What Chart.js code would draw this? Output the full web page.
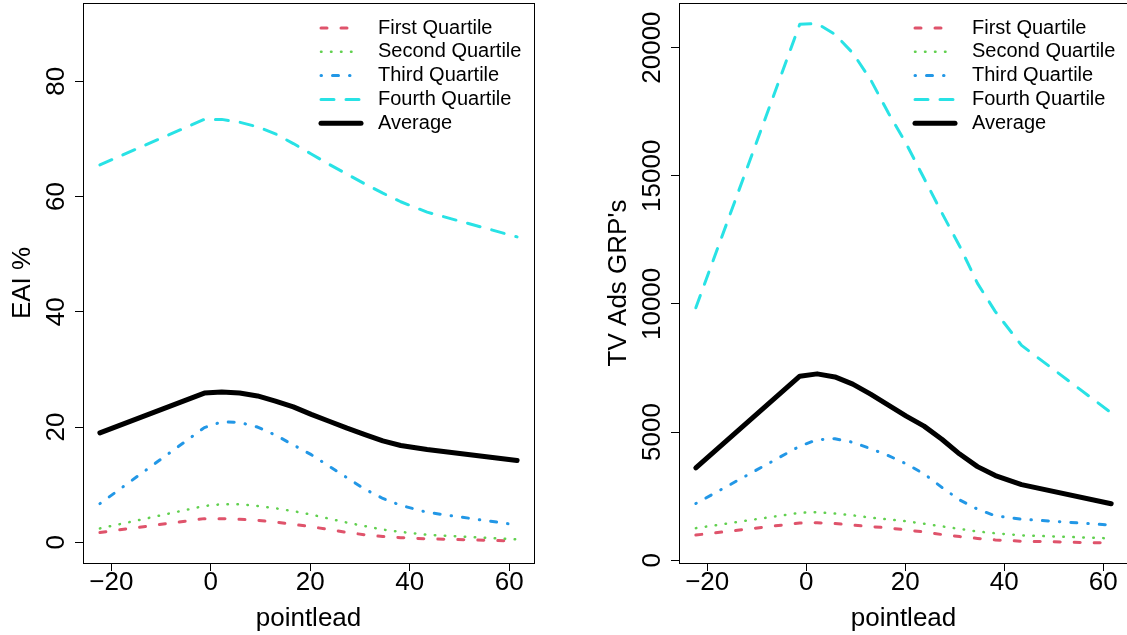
<!DOCTYPE html>
<html>
<head>
<meta charset="utf-8">
<script src="https://cdn.jsdelivr.net/npm/chart.js@4.4.1/dist/chart.umd.min.js"></script>
<style>
  html, body { margin: 0; padding: 0; background: #fff; overflow: hidden; }
  #eai { position: absolute; left: 0; top: 0; }
  #grp { position: absolute; left: 563px; top: 0; }
</style>
</head>
<body>
<canvas id="eai" width="563" height="635"></canvas>
<canvas id="grp" width="570" height="635"></canvas>
<script>
// values
const pointlead = [-22.3, -1.3, 2.2, 5.8, 9.4, 13, 16.6, 20.2, 23.8, 27.4, 31, 34.6, 38.2, 43.5, 61.6];

const eaiFirst = [1.7, 4.1, 4.1, 4.0, 3.8, 3.5, 3.1, 2.7, 2.2, 1.7, 1.3, 1.0, 0.8, 0.6, 0.2];
const eaiSecond = [2.4, 6.3, 6.6, 6.6, 6.3, 5.9, 5.4, 4.8, 4.1, 3.4, 2.8, 2.2, 1.8, 1.3, 0.5];
const eaiThird = [6.7, 19.9, 20.9, 20.8, 20.0, 18.6, 16.9, 15.2, 13.2, 11.2, 9.2, 7.6, 6.4, 5.2, 3.0];
const eaiFourth = [65.5, 73.4, 73.4, 72.9, 72.1, 70.9, 69.2, 67.4, 65.6, 63.9, 62.2, 60.6, 59.1, 57.3, 53.0];
const eaiAverage = [19.0, 25.9, 26.1, 25.9, 25.4, 24.5, 23.5, 22.2, 21.0, 19.8, 18.7, 17.6, 16.8, 16.1, 14.2];

const grpFirst = [980, 1450, 1460, 1430, 1370, 1310, 1260, 1180, 1100, 1000, 920, 850, 790, 740, 670];
const grpSecond = [1250, 1850, 1870, 1820, 1750, 1660, 1590, 1520, 1420, 1320, 1220, 1120, 1050, 970, 850];
const grpThird = [2210, 4450, 4700, 4740, 4600, 4350, 4080, 3760, 3370, 2840, 2350, 1990, 1730, 1600, 1370];
const grpFourth = [9850, 20910, 20940, 20520, 19790, 18750, 17450, 16250, 14900, 13550, 12250, 10800, 9700, 8380, 5750];
const grpAverage = [3600, 7180, 7270, 7150, 6870, 6480, 6050, 5620, 5230, 4720, 4140, 3650, 3300, 2950, 2200];

const seriesNames = ['First Quartile', 'Second Quartile', 'Third Quartile', 'Fourth Quartile', 'Average'];
const xTicks = [-20, 0, 20, 40, 60];
const eaiTicks = [0, 20, 40, 60, 80];
const grpTicks = [0, 5000, 10000, 15000, 20000];

const FONT = '"Liberation Sans", Arial, Helvetica, sans-serif';
Chart.defaults.font.family = FONT;

const lineStyles = [
    { color: '#DF536B', width: 3, dash: [6, 14] },
    { color: '#61D04F', width: 2.5, dash: [0.5, 9.5] },
    { color: '#2297E6', width: 3, dash: [0.5, 11, 6, 11] },
    { color: '#28E2E5', width: 3, dash: [13, 12] },
    { color: '#000000', width: 5, dash: [] },
];

const minus = (v) => (v < 0 ? '\u2212' + Math.abs(v) : String(v));

// box, tick labels, titles and legend drawn the R way
const rStyle = {
    id: 'rStyle',
    afterDraw(chart, args, o) {
        const ctx = chart.ctx;
        const a = chart.chartArea;
        const x = chart.scales.x;
        const y = chart.scales.y;
        ctx.save();
        ctx.strokeStyle = '#000';
        ctx.lineWidth = 1;
        ctx.setLineDash([]);
        ctx.strokeRect(a.left + 0.5, a.top + 0.5, a.right - a.left, a.bottom - a.top);

        ctx.fillStyle = '#000';
        ctx.font = '26px ' + FONT;
        ctx.textAlign = 'center';
        ctx.textBaseline = 'middle';
        x.ticks.forEach((t) => ctx.fillText(minus(t.value), x.getPixelForValue(t.value), a.bottom + 20));
        ctx.fillText(o.xTitle, (a.left + a.right) / 2, a.bottom + 56);

        y.ticks.forEach((t) => {
            ctx.save();
            ctx.translate(a.left - 26, y.getPixelForValue(t.value));
            ctx.rotate(-Math.PI / 2);
            ctx.fillText(String(t.value), 0, 0);
            ctx.restore();
        });
        ctx.save();
        ctx.translate(a.left - 60, (a.top + a.bottom) / 2);
        ctx.rotate(-Math.PI / 2);
        ctx.fillText(o.yTitle, 0, 0);
        ctx.restore();

        // legend, top right, no box
        ctx.font = '20px ' + FONT;
        ctx.textAlign = 'left';
        chart.data.datasets.forEach((ds, i) => {
            const yy = a.top + 25 + i * 23.8;
            ctx.beginPath();
            ctx.strokeStyle = ds.borderColor;
            ctx.lineWidth = ds.borderWidth;
            ctx.lineCap = 'round';
            ctx.setLineDash(ds.borderDash);
            ctx.moveTo(a.right - 213, yy);
            ctx.lineTo(a.right - 173, yy);
            ctx.stroke();
            ctx.fillText(ds.label, a.right - 156, yy);
        });
        ctx.restore();
    },
};

const makeChart = (id, series, yMin, yMax, yTicks, yTitle, yWidth, padRight) => {
    const datasets = series.map((s, i) => ({
        label: seriesNames[i],
        data: pointlead.map((p, j) => ({ x: p, y: s[j] })),
        borderColor: lineStyles[i].color,
        borderWidth: lineStyles[i].width,
        borderDash: lineStyles[i].dash,
        borderCapStyle: 'round',
        borderJoinStyle: 'round',
        pointRadius: 0,
        tension: 0,
        fill: false,
        order: 4 - i,
    }));

    return new Chart(document.getElementById(id), {
        type: 'line',
        data: { datasets: datasets },
        options: {
            responsive: false,
            animation: false,
            events: [],
            layout: { padding: { left: 0, right: padRight, top: 3, bottom: 0 } },
            plugins: {
                legend: { display: false },
                tooltip: { enabled: false },
                rStyle: { xTitle: 'pointlead', yTitle: yTitle },
            },
            scales: {
                x: {
                    type: 'linear',
                    min: -25.7,
                    max: 65.0,
                    afterBuildTicks: (s) => {
                        s.ticks = xTicks.map((v) => ({ value: v }));
                    },
                    afterFit: (s) => {
                        s.height = 72;
                    },
                    ticks: { display: false },
                    border: { display: false },
                    grid: { drawOnChartArea: false, drawTicks: true, tickLength: 8, color: '#000', lineWidth: 1 },
                },
                y: {
                    type: 'linear',
                    min: yMin,
                    max: yMax,
                    afterBuildTicks: (s) => {
                        s.ticks = yTicks.map((v) => ({ value: v }));
                    },
                    afterFit: (s) => {
                        s.width = yWidth;
                    },
                    ticks: { display: false },
                    border: { display: false },
                    grid: { drawOnChartArea: false, drawTicks: true, tickLength: 8, color: '#000', lineWidth: 1 },
                },
            },
        },
        plugins: [rStyle],
    });
};

makeChart('eai', [eaiFirst, eaiSecond, eaiThird, eaiFourth, eaiAverage], -3.6, 93.6, eaiTicks, 'EAI %', 83, 29);
makeChart('grp', [grpFirst, grpSecond, grpThird, grpFourth, grpAverage], -110, 21740, grpTicks, "TV Ads GRP's", 116, 5);
</script>
</body>
</html>
